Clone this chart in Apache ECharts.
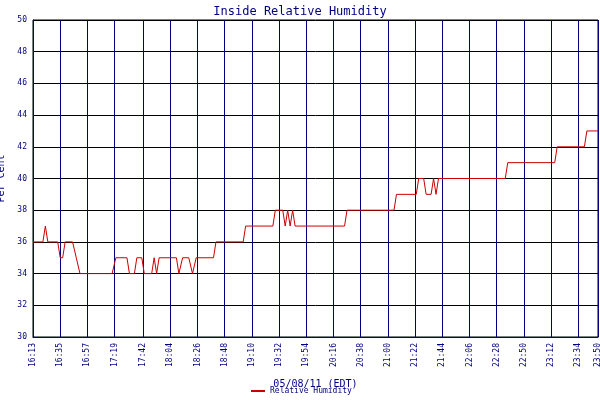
<!DOCTYPE html>
<html>
<head>
<meta charset="UTF-8">
<title>Inside Relative Humidity</title>
<style>
  body { margin: 0; background: #fff; }
  #chart { width: 600px; height: 400px; }
</style>
</head>
<body>
<div id="chart"></div>
<script src="https://cdn.jsdelivr.net/npm/echarts@6/dist/echarts.min.js"></script>
<script>
// minutes after 16:13 and the humidity reading at that moment
var minutes = [0, 8, 10, 12, 20, 22, 24, 26, 32, 35, 38, 64, 67, 76, 78, 82, 84, 88, 90, 96, 98, 100, 102,
  116, 118, 121, 126, 129, 130, 132, 146, 148, 170, 172, 194, 196, 202, 204, 206, 208, 210, 212, 252, 254,
  292, 294, 310, 312, 316, 318, 322, 324, 326, 328, 382, 384, 422, 424, 446, 448, 457];
var humidity = [36, 36, 37, 36, 36, 35, 35, 36, 36, 35, 34, 34, 35, 35, 34, 34, 35, 35, 34, 34, 35, 34, 35,
  35, 34, 35, 35, 34, 34, 35, 35, 36, 36, 37, 37, 38, 38, 37, 38, 37, 38, 37, 37, 38,
  38, 39, 39, 40, 40, 39, 39, 40, 39, 40, 40, 41, 41, 42, 42, 43, 43];
var tickLabels = ['16:13', '16:35', '16:57', '17:19', '17:42', '18:04', '18:26', '18:48', '19:10', '19:32',
  '19:54', '20:16', '20:38', '21:00', '21:22', '21:44', '22:06', '22:28', '22:50', '23:12', '23:34', '23:50'];

function fmt(m) {
  var h = Math.floor(m / 60), mm = m % 60;
  return h + ':' + (mm < 10 ? '0' : '') + mm;
}
var categories = [];
for (var t = 16 * 60 + 13; t <= 23 * 60 + 50; t++) categories.push(fmt(t));

var data = minutes.map(function (m, i) { return [categories[m], humidity[i]]; });
var showTick = function (idx, val) { return tickLabels.indexOf(val) >= 0; };

var navy = '#000080';
var font = 'DejaVu Sans Mono';
var chart = echarts.init(document.getElementById('chart'));
chart.setOption({
  backgroundColor: '#fff',
  animation: false,
  title: {
    text: 'Inside Relative Humidity', left: 'center', top: 1,
    textStyle: { color: navy, fontFamily: font, fontSize: 12, fontWeight: 'normal' }
  },
  legend: {
    bottom: 0, left: 246, itemWidth: 14, itemHeight: 2, icon: 'rect',
    textStyle: { color: navy, fontFamily: font, fontSize: 8 },
    data: ['Relative Humidity']
  },
  grid: {
    left: 33, right: 2, top: 20, bottom: 63, containLabel: false, outerBoundsMode: 'none',
    show: true, borderColor: '#000', borderWidth: 1
  },
  xAxis: {
    type: 'category', data: categories, boundaryGap: false,
    name: '05/08/11 (EDT)', nameLocation: 'middle', nameGap: 42,
    nameTextStyle: { color: navy, fontFamily: font, fontSize: 10 },
    axisLine: { lineStyle: { color: navy } },
    axisTick: { show: false },
    axisLabel: { interval: showTick, rotate: 90, color: navy, fontFamily: font, fontSize: 8, margin: 6 },
    splitLine: { show: true, interval: showTick, lineStyle: { color: navy, width: 1 } }
  },
  yAxis: {
    type: 'value', min: 30, max: 50, interval: 2,
    name: 'Per Cent', nameLocation: 'middle', nameGap: 22,
    nameTextStyle: { color: navy, fontFamily: font, fontSize: 10 },
    axisLine: { show: true, lineStyle: { color: navy } },
    axisTick: { show: false },
    axisLabel: { color: navy, fontFamily: font, fontSize: 8, margin: 6 },
    splitLine: { lineStyle: { color: '#000', width: 1 } }
  },
  series: [{
    name: 'Relative Humidity', type: 'line', data: data, showSymbol: false,
    lineStyle: { color: '#cc0000', width: 1 }, itemStyle: { color: '#cc0000' }
  }]
});
</script>
</body>
</html>
